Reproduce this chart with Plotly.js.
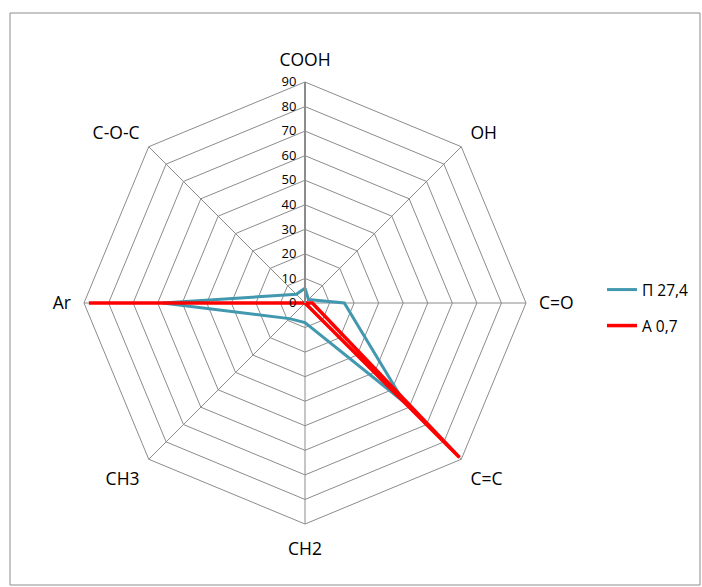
<!DOCTYPE html>
<html>
<head>
<meta charset="utf-8">
<script src="https://cdn.plot.ly/plotly-3.0.1.min.js"></script>
<style>
html,body{margin:0;padding:0;background:#fff;}
#chart{width:702px;height:587px;}
</style>
</head>
<body>
<div id="chart"></div>
<script>
const categories = ["COOH", "OH", "C=O", "C=C", "CH2", "CH3", "Ar", "C-O-C"];
const seriesNames = ["П 27,4", "А 0,7"];
const valuesP = [6, 2, 16, 57, 8, 9, 58, 5];
const valuesA = [0, 0, 3, 89, 0, 0, 88, 0];
const radialTicks = [0, 10, 20, 30, 40, 50, 60, 70, 80, 90];

function closed(arr){ return arr.concat([arr[0]]); }

const W = 702, H = 587;
const cx = 305, cy = 303, R = 221;

const traces = [
  {
    type: "scatterpolar", mode: "lines",
    r: closed(valuesP), theta: closed(categories),
    name: seriesNames[0],
    line: {color: "#4198AF", width: 3},
    legend: "legend"
  },
  {
    type: "scatterpolar", mode: "lines",
    r: closed(valuesA), theta: closed(categories),
    name: seriesNames[1],
    line: {color: "#FF0000", width: 3.5},
    legend: "legend2"
  }
];

const font = {family: "Open Sans, Liberation Sans, sans-serif", color: "#000"};

const layout = {
  width: W, height: H,
  margin: {l: 0, r: 0, t: 0, b: 0},
  paper_bgcolor: "#fff",
  showlegend: true,
  font: font,
  polar: {
    domain: {x: [(cx - R) / W, (cx + R) / W], y: [1 - (cy + R) / H, 1 - (cy - R) / H]},
    gridshape: "linear",
    bgcolor: "rgba(0,0,0,0)",
    angularaxis: {
      type: "category",
      categoryarray: categories,
      direction: "clockwise",
      rotation: 90,
      showgrid: true,
      gridcolor: "#8c8c8c",
      gridwidth: 1,
      showline: true,
      linecolor: "#8c8c8c",
      linewidth: 1,
      ticks: "outside",
      ticklen: 9,
      tickcolor: "rgba(0,0,0,0)",
      tickfont: {family: font.family, size: 17.5, color: "#000"}
    },
    radialaxis: {
      range: [0, 90],
      tickvals: radialTicks,
      ticktext: radialTicks.map(String),
      angle: 90,
      tickangle: 90,
      side: "counterclockwise",
      showline: true,
      linecolor: "#8c8c8c",
      linewidth: 2,
      showgrid: true,
      gridcolor: "#8c8c8c",
      gridwidth: 1,
      ticks: "outside",
      ticklen: 3,
      tickcolor: "rgba(0,0,0,0)",
      tickfont: {family: font.family, size: 13, color: "#000"}
    }
  },
  legend: {
    x: 602 / W, y: 1 - 273 / H, xanchor: "left", yanchor: "top",
    bgcolor: "rgba(0,0,0,0)",
    font: {family: font.family, size: 15.5, color: "#000"},
    itemwidth: 30
  },
  legend2: {
    x: 602 / W, y: 1 - 309 / H, xanchor: "left", yanchor: "top",
    bgcolor: "rgba(0,0,0,0)",
    font: {family: font.family, size: 15.5, color: "#000"},
    itemwidth: 30
  },
  shapes: [
    {type: "rect", xref: "paper", yref: "paper",
     x0: 10 / W, x1: 700 / W, y0: 1 - 585 / H, y1: 1 - 13 / H,
     line: {color: "#8c8c8c", width: 1}, fillcolor: "rgba(0,0,0,0)", layer: "below"}
  ]
};

Plotly.newPlot("chart", traces, layout, {displayModeBar: false, staticPlot: true});
</script>
</body>
</html>
